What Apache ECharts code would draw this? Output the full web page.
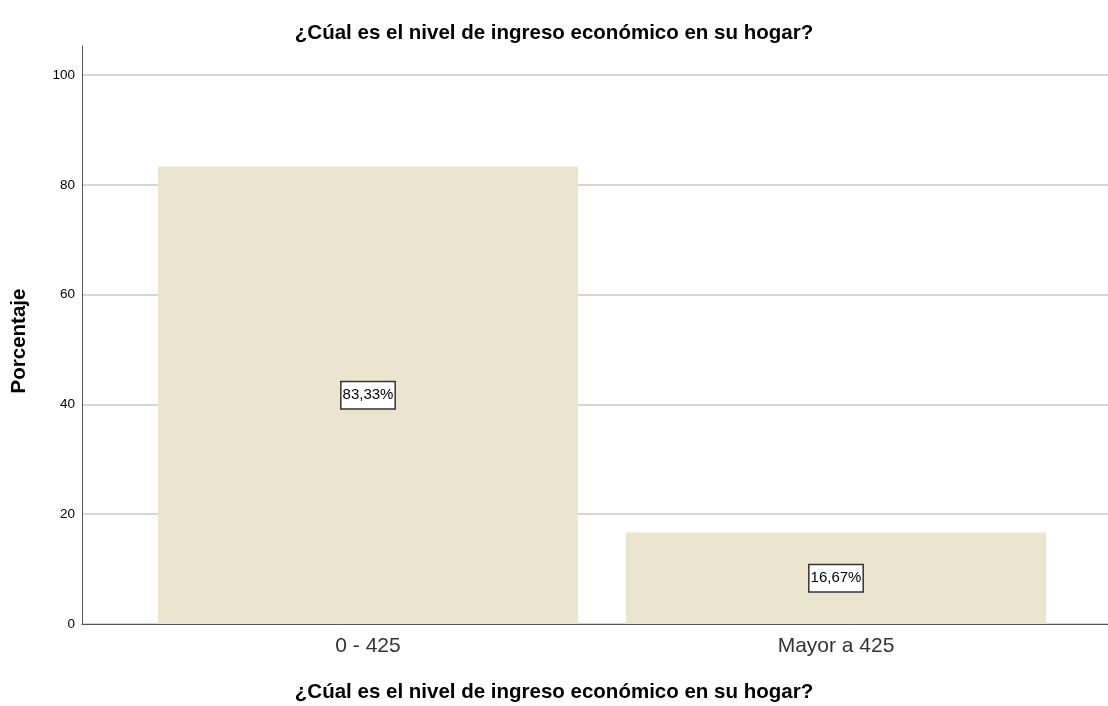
<!DOCTYPE html>
<html><head><meta charset="utf-8">
<script src="https://cdn.jsdelivr.net/npm/echarts@6/dist/echarts.min.js"></script>
<style>html,body{margin:0;padding:0;background:#fff}#c{width:1108px;height:706px}</style>
</head><body><div id="c"></div>
<script>
const categories = ['0 - 425', 'Mayor a 425'];
const percentages = [83.33, 16.67];
const yTicks = [0, 20, 40, 60, 80, 100];
const titleText = '¿Cúal es el nivel de ingreso económico en su hogar?';

const chart = echarts.init(document.getElementById('c'));
const font = '"Liberation Sans", Arial, sans-serif';
chart.setOption({
  animation: false,
  backgroundColor: '#fff',
  title: [{
    text: titleText, left: 'center', top: 18,
    textStyle: {fontFamily: font, fontSize: 20.5, fontWeight: 'bold', color: '#000'}
  }, {
    text: titleText, left: 'center', top: 677,
    textStyle: {fontFamily: font, fontSize: 20.5, fontWeight: 'bold', color: '#000'}
  }],
  grid: [
    {left: 82, right: 0, top: 46, bottom: 82},
    {left: 82, right: 0, top: 75, bottom: 82},
    {left: 134, right: 38, top: 75, bottom: 82}
  ],
  xAxis: [
    {gridIndex: 0, type: 'value', min: 0, max: 1, axisLine: {show: true, lineStyle: {color: '#555', width: 1}}, axisTick: {show: false}, axisLabel: {show: false}, splitLine: {show: false}},
    {gridIndex: 1, type: 'value', min: 0, max: 1, show: false},
    {gridIndex: 2, type: 'category', data: categories, axisLine: {show: false}, axisTick: {show: false},
     axisLabel: {fontFamily: font, fontSize: 21, color: '#333', margin: 12}}
  ],
  yAxis: [
    {gridIndex: 0, type: 'value', min: 0, max: 105, axisLine: {show: true, lineStyle: {color: '#555', width: 1}}, axisTick: {show: false}, axisLabel: {show: false}, splitLine: {show: false},
     name: 'Porcentaje', nameLocation: 'middle', nameGap: 52, nameRotate: 90,
     nameTextStyle: {fontFamily: font, fontSize: 20.5, fontWeight: 'bold', color: '#000', padding: [0, 12, 0, 0]}},
    {gridIndex: 1, type: 'value', min: yTicks[0], max: yTicks[yTicks.length - 1], interval: 20,
     axisLine: {show: false}, axisTick: {show: false},
     axisLabel: {fontFamily: font, fontSize: 13.5, color: '#000', margin: 7},
     splitLine: {show: true, lineStyle: {color: '#d6d6d6', width: 2}}},
    {gridIndex: 2, type: 'value', min: 0, max: 100, show: false}
  ],
  series: [{
    type: 'bar', xAxisIndex: 2, yAxisIndex: 2,
    data: percentages, barWidth: 420,
    itemStyle: {color: '#ebe4cf'},
    label: {
      show: true, position: 'inside',
      formatter: p => p.value.toFixed(2).replace('.', ',') + '%',
      fontFamily: font, fontSize: 15, color: '#000', lineHeight: 17,
      backgroundColor: '#fff', borderColor: '#333', borderWidth: 1.5, padding: [5, 1, 4, 1]
    }
  }]
});
</script></body></html>
